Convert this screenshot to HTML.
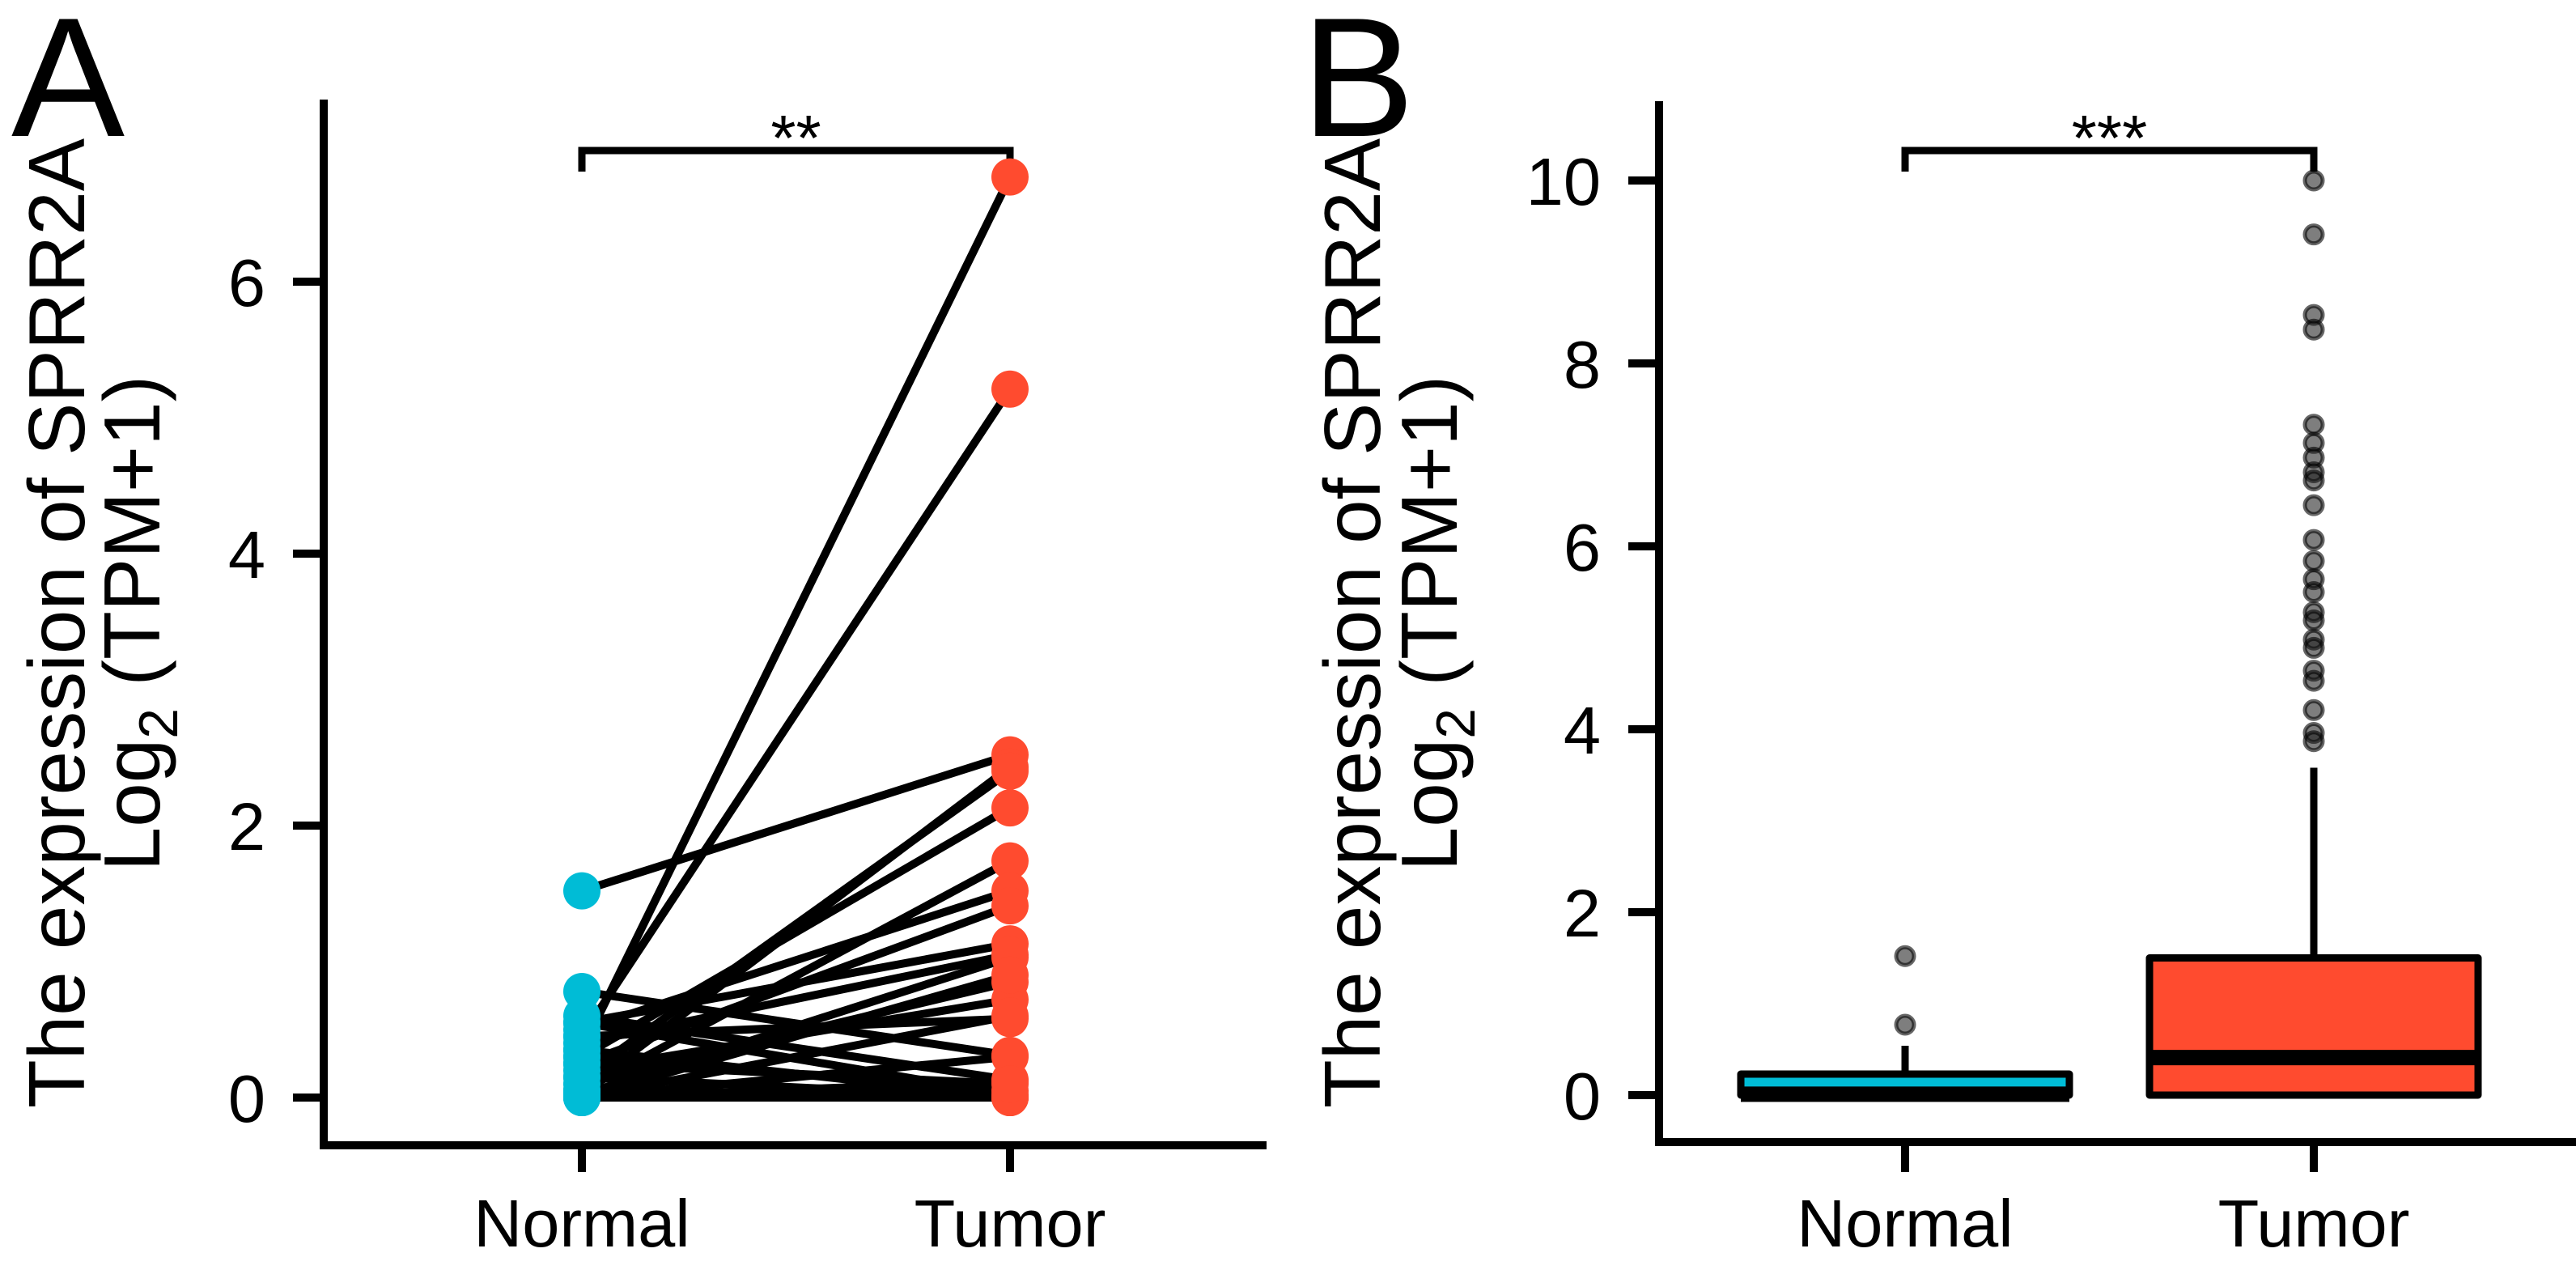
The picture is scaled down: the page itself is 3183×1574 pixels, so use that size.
<!DOCTYPE html>
<html><head><meta charset="utf-8"><style>
html,body{margin:0;padding:0;background:#fff;}
svg{display:block;}
text{font-family:"Liberation Sans",Arial,sans-serif;fill:#000;}
</style></head><body>
<svg id="fig" width="3183" height="1574" viewBox="0 0 3183 1574" xmlns="http://www.w3.org/2000/svg"></svg>
<script>
// ---------- Panel A data (paired) ----------
const pairedCategories = ["Normal", "Tumor"];
const pairedNormal = [0.35,0.45,1.52,0.05,0.15,0.30,0.05,0.50,0.25,0.55,0.02,0.40,0.10,0.20,0.45,0.78,0.60,0.30,0.00,0.00,0.55,0.15,0.00,0.35,0.00,0.05,0.25,0.00];
const pairedTumor  = [6.77,5.21,2.52,2.43,2.40,2.13,1.74,1.52,1.41,1.13,1.03,1.05,0.85,0.72,0.58,0.31,0.13,0.05,0.00,0.12,0.02,0.00,0.30,0.00,0.60,0.00,0.10,0.90];
const pairedTicks = [0,2,4,6];
const pairedSig = "**";
// ---------- Panel B data (boxplot) ----------
const boxCategories = ["Normal", "Tumor"];
const boxQ1 = [0.00, 0.00];
const boxMedian = [0.01, 0.41];
const boxQ3 = [0.23, 1.50];
const boxWhiskerHigh = [0.54, 3.58];
const boxWhiskerLow = [0.00, 0.00];
const outliersNormal = [0.77, 1.52];
const outliersTumor = [10.0,9.41,8.53,8.37,7.33,7.13,6.97,6.81,6.72,6.45,6.07,5.84,5.64,5.50,5.28,5.19,4.98,4.89,4.64,4.53,4.21,3.96,3.87];
const boxTicks = [0,2,4,6,8,10];
const boxSig = "***";

const NS = "http://www.w3.org/2000/svg";
const svg = document.getElementById('fig');
function mk(tag, attrs, parent){
  const e = document.createElementNS(NS, tag);
  for (const k in attrs) e.setAttribute(k, attrs[k]);
  (parent||svg).appendChild(e);
  return e;
}
const CYAN = "#00BCD6", RED = "#FF4B2F";

function axes(g, o){
  const ya = mk('line',{x1:o.ax,y1:o.top,x2:o.ax,y2:o.bot,stroke:'#000','stroke-width':10,'stroke-linecap':'square'},g);
  
  
  const xa = mk('line',{x1:o.ax,y1:o.bot,x2:o.xend,y2:o.bot,stroke:'#000','stroke-width':10,'stroke-linecap':'square'},g);
  
  
  o.ticks.forEach(t=>{
    const y = o.y(t);
    const tl = mk('line',{x1:o.ax-38,y1:y,x2:o.ax,y2:y,stroke:'#000','stroke-width':10},g);
    
    
    const tx = mk('text',{x:o.ax-72,y:y+30,'text-anchor':'end','font-size':83},g);
    tx.textContent = t;
    
    
  });
  o.cats.forEach((c,i)=>{
    const x = o.x(i);
    const tl = mk('line',{x1:x,y1:o.bot,x2:x,y2:1448,stroke:'#000','stroke-width':10},g);
    
    
    const tx = mk('text',{x:x,y:1540,'text-anchor':'middle','font-size':83},g);
    tx.textContent = c;
    
    
  });
  const t1 = mk('text',{x:0,y:0,'text-anchor':'middle','font-size':98,transform:`translate(${o.t1x},770) rotate(-90)`},g);
  t1.textContent = "The expression of SPRR2A";
  
  
  const t2 = mk('text',{x:0,y:0,'text-anchor':'middle','font-size':98,transform:`translate(${o.t2x},770) rotate(-90)`},g);
  
  
  const s1 = mk('tspan',{},t2); s1.textContent = "Log";
  const s2 = mk('tspan',{dy:22,'font-size':68},t2); s2.textContent = "2";
  const s3 = mk('tspan',{dy:-22},t2); s3.textContent = " (TPM+1)";
  const L = mk('text',{x:o.lx,y:168,'font-size':210},g);
  L.textContent = o.letter;
  
  
  const x0=o.x(0), x1=o.x(1);
  const br = mk('path',{d:`M${x0},212 L${x0},186 L${x1},186 L${x1},212`,fill:'none',stroke:'#000','stroke-width':9},g);
  
  
  const st = mk('text',{x:(x0+x1)/2,y:198,'text-anchor':'middle','font-size':80},g);
  st.textContent = o.sig;
  
  
}

// ---------- Panel A ----------
const gA = mk('g',{});


const Ay = v => 1356 - v*168;
const Ax = i => [719,1248][i];
axes(gA,{ax:400,top:128,bot:1415,xend:1560,ticks:pairedTicks,y:Ay,x:Ax,cats:pairedCategories,t1x:104,t2x:197,lx:14,letter:"A",sig:pairedSig});
pairedNormal.forEach((n,i)=>{
  const l = mk('line',{x1:Ax(0),y1:Ay(n),x2:Ax(1),y2:Ay(pairedTumor[i]),stroke:'#000','stroke-width':10},gA);
  
  
});
pairedNormal.forEach(n=>{
  const c = mk('circle',{cx:Ax(0),cy:Ay(n),r:23,fill:CYAN},gA);
  
  
});
pairedTumor.forEach(t=>{
  const c = mk('circle',{cx:Ax(1),cy:Ay(t),r:23,fill:RED},gA);
  
  
});

// ---------- Panel B ----------
const gB = mk('g',{});


const By = v => 1353 - v*113;
const Bx = i => [2354,2859][i];
axes(gB,{ax:2050,top:130,bot:1411,xend:3178,ticks:boxTicks,y:By,x:Bx,cats:boxCategories,t1x:1705,t2x:1800,lx:1608,letter:"B",sig:boxSig});
const fills=[CYAN,RED], hw=203;
boxCategories.forEach((c,i)=>{
  const x=Bx(i);
  const w = mk('line',{x1:x,y1:By(boxQ3[i]),x2:x,y2:By(boxWhiskerHigh[i]),stroke:'#000','stroke-width':9},gB);
  
  
  const w2 = mk('line',{x1:x,y1:By(boxQ1[i]),x2:x,y2:By(boxWhiskerLow[i]),stroke:'#000','stroke-width':9},gB);
  
  
  const r = mk('rect',{x:x-hw,y:By(boxQ3[i]),width:2*hw,height:Math.max(1,By(boxQ1[i])-By(boxQ3[i])),fill:fills[i],stroke:'#000','stroke-width':9,'stroke-linejoin':'round'},gB);
  
  
  const m = mk('line',{x1:x-hw,y1:By(boxMedian[i]),x2:x+hw,y2:By(boxMedian[i]),stroke:'#000','stroke-width':19},gB);
  
  
});
function outl(vals,i){
  vals.forEach(v=>{
    const c = mk('circle',{cx:Bx(i),cy:By(v),r:11,fill:'rgba(20,20,20,0.55)',stroke:'rgba(0,0,0,0.6)','stroke-width':5},gB);
    
    
  });
}
outl(outliersNormal,0);
outl(outliersTumor,1);
</script>
</body></html>
